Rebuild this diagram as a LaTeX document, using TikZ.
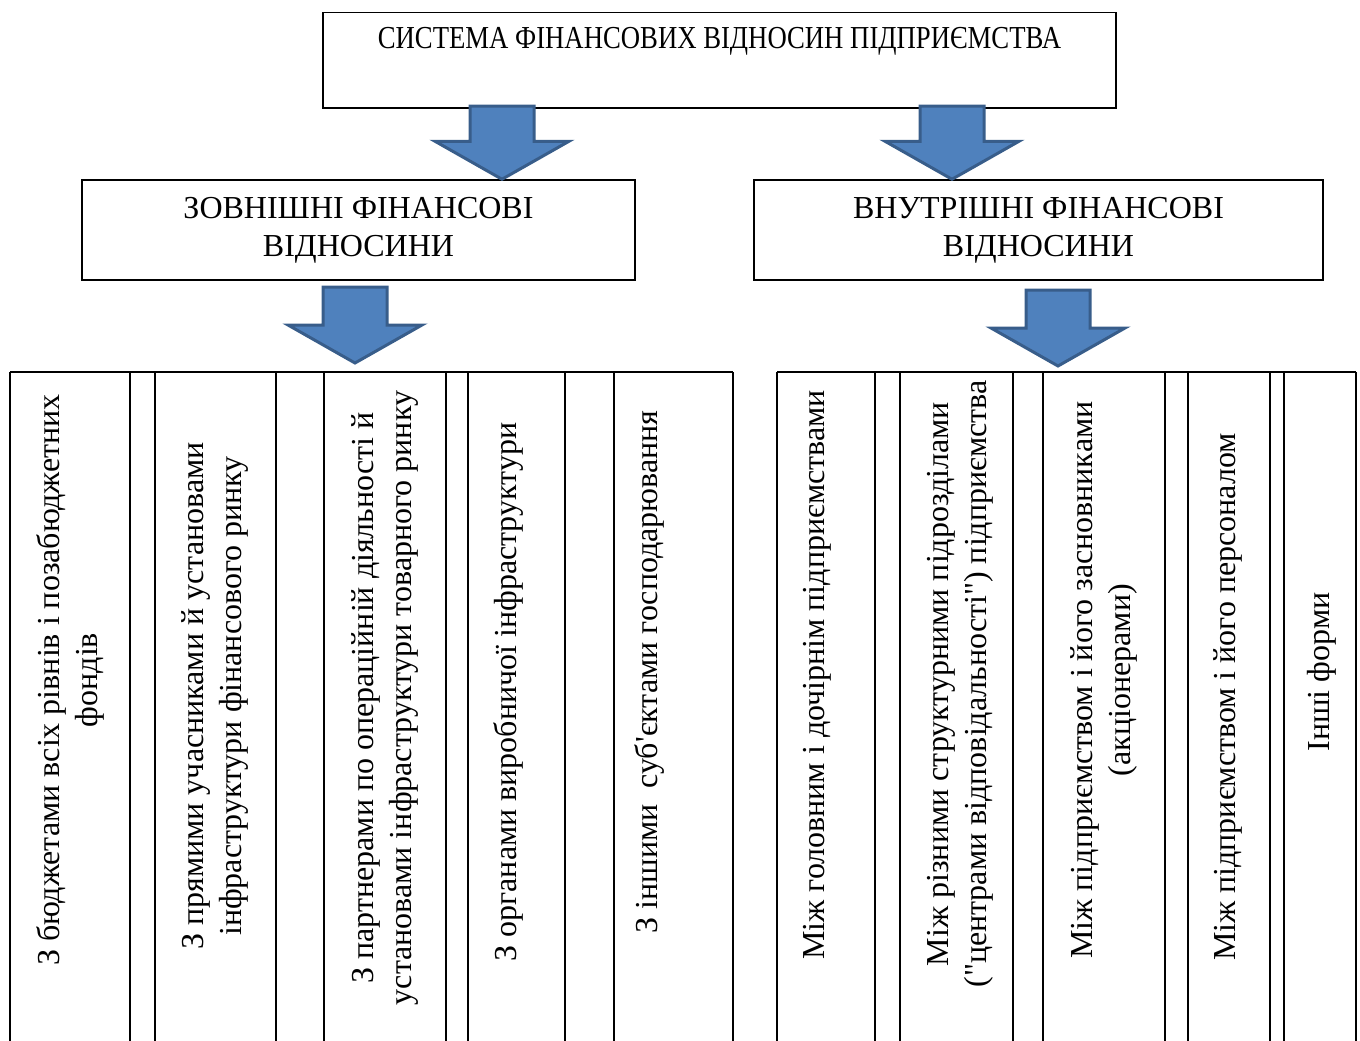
\documentclass[tikz,border=0pt]{standalone}
\usepackage{fontspec}
\setmainfont{Liberation Serif}[Ligatures=TeXOff]
\usepackage{graphicx}
\usetikzlibrary{calc}
\definecolor{arrfill}{HTML}{4F81BD}
\definecolor{arrline}{HTML}{385D8A}
\newcommand{\blockarr}[2]{%
  \filldraw[arrow body] ($(#1)+(-32,0)$) -- ($(#1)+(32,0)$) -- ($(#2)+(32,-38)$)
    -- ($(#2)+(67,-38)$) -- (#2) -- ($(#2)+(-67,-38)$) -- ($(#2)+(-32,-38)$) -- cycle;}

\begin{document}
\begin{tikzpicture}[x=1pt,y=-1pt,line width=1.5pt,
  every node/.style={font=\fontsize{32}{38}\selectfont},
  box/.style={draw,inner sep=0pt,align=center},
  arrow body/.style={fill=arrfill,draw=arrline,line width=3pt,line join=miter},
  cell/.style={rotate=90,align=center,inner sep=0pt}]
\useasboundingbox (0,0) rectangle (1360,1041);
% boxes
\node[box,minimum width=793pt,text height=36pt,text depth=59pt,anchor=north] (sys)
  at (719.5,12) {\scalebox{0.835}[1]{СИСТЕМА ФІНАНСОВИХ ВІДНОСИН ПІДПРИЄМСТВА}};
\node[box,minimum width=553pt,minimum height=100pt] (extl) at (358.5,230)
  {ЗОВНІШНІ ФІНАНСОВІ\\ВІДНОСИНИ};
\node[box,minimum width=569pt,minimum height=100pt] (intl) at (1038.5,230)
  {ВНУТРІШНІ ФІНАНСОВІ\\ВІДНОСИНИ};
% table tops
\coordinate (etop) at (10,372); \coordinate (itop) at (777,372);
\draw (etop) -- (733,372);
\foreach \x in {10,130,155,276,324,446,468,565,614,733}
  \draw (\x,372) -- (\x,1045);
\draw (itop) -- (1356,372);
\foreach \x in {777,875,900,1013,1043,1165,1188,1270,1284,1356}
  \draw (\x,372) -- (\x,1045);
% arrows
\coordinate (a1) at (502,106); \coordinate (a2) at (952,106);
\coordinate (a3) at (355,287); \coordinate (a4) at (1058,290);
\coordinate (a3e) at ($(a3 |- etop)+(0,-9)$);
\coordinate (a4e) at ($(a4 |- itop)+(0,-6)$);
\blockarr{a1}{a1 |- extl.north}
\blockarr{a2}{a2 |- intl.north}
\blockarr{a3}{a3e}
\blockarr{a4}{a4e}
% columns
\node[cell] (ext1) at (70,680) {З бюджетами всіх рівнів і позабюджетних\\фондів};
\node[cell] (ext2) at (215,696) {З прямими учасниками й установами\\інфраструктури фінансового ринку};
\node[cell] (ext3) at (385,698) {З партнерами по операційній діяльності й\\установами інфраструктури товарного ринку};
\node[cell] (ext4) at (508,692) {З органами виробничої інфраструктури};
\node[cell] (ext5) at (649,672) {З іншими\ \ суб'єктами господарювання};
\node[cell] (int1) at (817,675) {Між головним і дочірнім підприємствами};
\node[cell] (int2) at (960,684) {Між різними структурними підрозділами\\("центрами відповідальності") підприємства};
\node[cell] (int3) at (1104,680) {Між підприємством і його засновниками\\(акціонерами)};
\node[cell] (int4) at (1228,697) {Між підприємством і його персоналом};
\node[cell] (int5) at (1322,672) {Інші форми};
\end{tikzpicture}
\end{document}
